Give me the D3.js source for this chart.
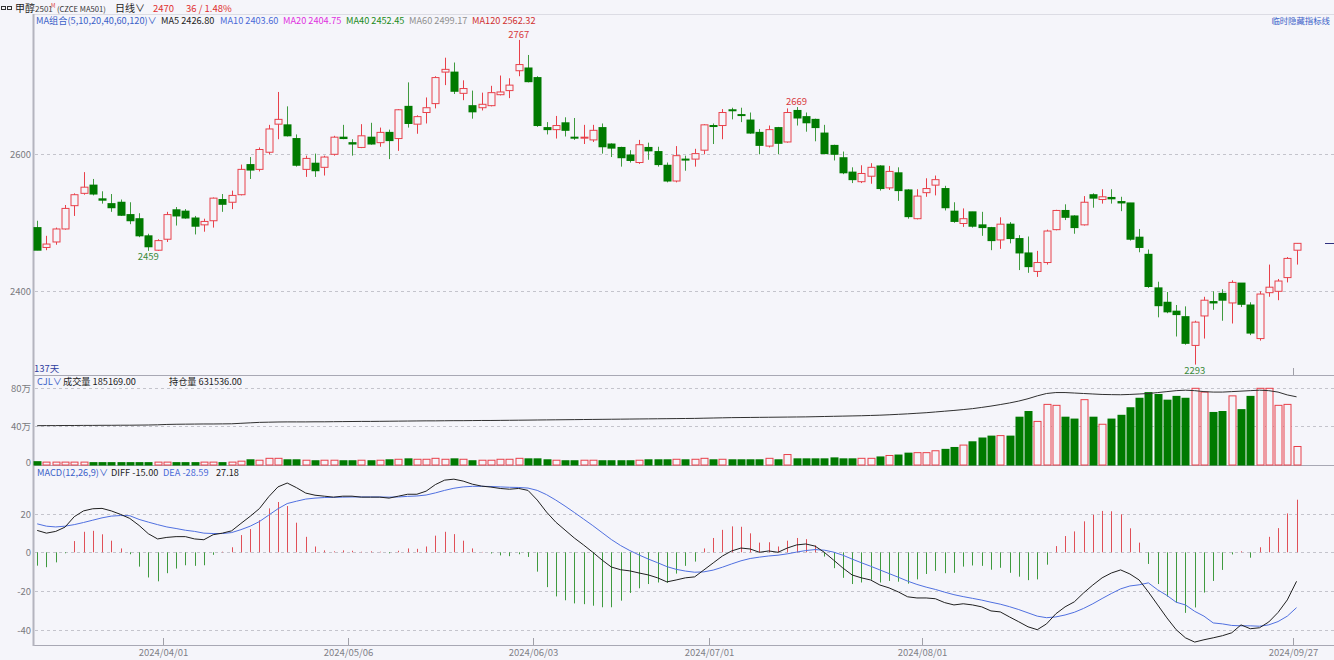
<!DOCTYPE html>
<html><head><meta charset="utf-8">
<script src="https://cdn.jsdelivr.net/npm/d3@7"></script>
<style>html,body{margin:0;padding:0;background:#f5f5fa;}svg{display:block;}</style>
</head><body>
<svg id="c" width="1334" height="660"></svg>
<script>
// ---------- DATA ----------
const dateTicks = [14, 34, 54, 73, 96, 136];
const dateLabels = ["2024/04/01","2024/05/06","2024/06/03","2024/07/01","2024/08/01","2024/09/27"];
const priceTicks = [2400, 2600];
const volTicks = [40, 80];
const volTickLabels = ["40万","80万"];
const macdTicks = [-40, -20, 0, 20];

const opens  = [2493,2464,2472,2491,2525,2543,2555,2535,2528,2530,2512,2506,2481,2460,2476,2519,2517,2507,2497,2503,2534,2530,2541,2585,2578,2603,2644,2643,2623,2578,2587,2581,2600,2625,2617,2610,2625,2617,2632,2623,2670,2644,2661,2674,2720,2720,2689,2671,2668,2671,2687,2693,2722,2726,2712,2639,2636,2646,2625,2624,2621,2639,2615,2610,2599,2588,2610,2604,2584,2561,2593,2593,2606,2642,2642,2665,2658,2650,2632,2612,2639,2618,2664,2655,2651,2631,2613,2595,2574,2560,2568,2583,2551,2573,2548,2506,2544,2555,2550,2517,2499,2516,2497,2493,2475,2498,2477,2456,2429,2442,2490,2518,2510,2497,2541,2534,2537,2531,2529,2479,2454,2405,2384,2371,2363,2321,2364,2385,2397,2383,2412,2380,2331,2398,2400,2420,2460];
const highs  = [2503,2481,2493,2526,2543,2574,2564,2546,2542,2534,2530,2514,2484,2476,2516,2523,2520,2510,2506,2537,2542,2547,2585,2596,2610,2643,2691,2670,2629,2598,2601,2598,2627,2643,2622,2644,2646,2639,2636,2666,2705,2657,2683,2714,2741,2734,2708,2693,2690,2700,2715,2711,2767,2745,2714,2647,2656,2654,2653,2643,2643,2645,2616,2611,2606,2621,2617,2611,2588,2612,2598,2608,2644,2645,2666,2668,2668,2661,2637,2642,2640,2667,2669,2661,2652,2643,2614,2604,2581,2584,2587,2584,2583,2581,2549,2549,2565,2569,2554,2530,2521,2516,2516,2494,2508,2501,2482,2480,2459,2490,2519,2527,2511,2539,2543,2549,2549,2538,2529,2491,2461,2414,2399,2380,2378,2357,2392,2400,2403,2416,2412,2384,2400,2439,2418,2450,2470];
const lows   = [2460,2460,2468,2490,2510,2541,2540,2528,2516,2510,2498,2479,2459,2459,2472,2496,2506,2483,2487,2493,2516,2520,2540,2564,2575,2600,2622,2626,2582,2567,2567,2569,2598,2622,2598,2609,2614,2611,2593,2605,2639,2630,2645,2667,2701,2688,2679,2652,2664,2670,2686,2682,2714,2705,2640,2629,2623,2626,2621,2615,2618,2601,2596,2582,2588,2586,2592,2582,2559,2559,2576,2582,2600,2615,2622,2651,2647,2630,2600,2610,2600,2617,2642,2633,2619,2600,2591,2571,2558,2558,2557,2547,2548,2532,2506,2505,2538,2540,2518,2500,2494,2493,2481,2460,2462,2470,2431,2427,2421,2439,2489,2504,2484,2496,2522,2528,2528,2517,2474,2457,2405,2362,2368,2334,2322,2293,2331,2373,2357,2353,2377,2336,2328,2392,2387,2413,2439];
const closes = [2460,2469,2491,2521,2541,2552,2542,2533,2522,2511,2503,2481,2465,2474,2512,2510,2507,2495,2502,2536,2527,2540,2578,2577,2607,2637,2651,2627,2584,2594,2576,2596,2625,2623,2615,2627,2615,2632,2620,2665,2645,2655,2668,2712,2724,2692,2696,2662,2673,2690,2691,2701,2731,2706,2642,2636,2642,2635,2624,2625,2635,2611,2609,2595,2591,2614,2605,2585,2561,2598,2592,2601,2643,2641,2661,2664,2657,2631,2613,2636,2616,2661,2653,2646,2639,2601,2600,2573,2563,2572,2581,2550,2575,2547,2509,2539,2550,2563,2522,2502,2506,2495,2493,2474,2498,2477,2456,2436,2442,2488,2518,2508,2493,2530,2536,2538,2535,2529,2476,2464,2407,2379,2370,2366,2324,2355,2387,2383,2387,2413,2381,2339,2396,2406,2415,2448,2470];

// volume (万手) and open interest (万手)
const volumes = [3,2,2,2,2,2,2,2,2,2,2,2,2,2,2,2,2,2,2,2,2,2,3,5,4,6,6,5,5,4,4,4,4,4,4,4,4,4,5,5,6,5,5,6,5,6,5,4,4,4,5,5,6,6,6,5,4,4,4,4,4,4,4,4,4,4,5,5,5,5,5,5,6,5,5,5,5,5,5,6,5,10,6,6,6,6,7,6,6,6,6,8,9,10,12,12,12,14,16,18,20,24,28,30,30,30,50,56,45,63,62,50,48,68,50,42,48,52,60,70,76,74,68,72,70,80,76,55,56,72,58,72,80,80,62,63,18.5];
const openInterest = [40.5,40.6,40.6,40.7,40.7,40.8,40.8,40.9,40.9,41,41,41.1,41.2,41.4,41.8,42,42.1,42.2,42.3,42.3,42.4,42.5,43,43.5,44,44.2,44.4,44.5,44.5,44.5,44.6,44.6,44.7,44.8,44.9,45,45,45.1,45.2,45.3,45.4,45.5,45.6,45.6,45.7,45.8,45.8,45.9,46,46,46.1,46.2,46.3,46.4,46.5,46.6,46.7,46.8,46.9,47,47.1,47.2,47.3,47.4,47.5,47.6,47.7,47.8,47.9,48,48.1,48.2,48.4,48.6,48.8,49,49.1,49.2,49.3,49.4,49.5,49.6,49.7,49.8,50,50.2,50.4,50.6,50.8,51,51.3,51.6,52,52.5,53,53.6,54.2,55,55.8,56.6,57.5,58.5,59.8,61.2,62.8,64.5,66.5,69,72,74.5,75.5,75.5,75,74.5,74,73.5,73.3,73.2,73.5,74,74.5,75.5,76.5,77.5,78,77.5,76.5,76,76,76.5,77,77.5,78,77.5,76,73,71];

// MACD
const diffs = [11.3,9.9,10.8,13,18.4,21.4,22.5,22.7,21.4,19.6,17.5,13.9,9.6,6.9,7.7,8.1,8.1,6.9,6.5,9.1,9.9,11.1,14.9,18.6,22.6,28.7,33.8,35.8,33.4,30.6,29.5,29,28.5,29,29,28.5,28.5,28.5,28,29,30,30,31.6,35,37.3,37.8,36.8,35.2,34.2,33.7,33,32.6,33,32,27,20.8,15.6,11.5,7.4,3.8,0,-4,-7.6,-9,-9.6,-10.7,-11.7,-13.2,-15.3,-14.3,-13.2,-12.7,-9.1,-5.5,-1.9,0.7,2.2,1.7,0,0.7,0,2.2,3.8,4.3,3.2,0,-4,-8.1,-11.7,-13.2,-14.3,-16.9,-18.4,-20.5,-23,-23.6,-23.6,-24,-26,-27.2,-26.6,-27.2,-28.2,-30.3,-30.8,-33.4,-35.9,-38.5,-40,-37,-31.8,-28.2,-25.6,-21,-16.9,-13.2,-10.7,-9.1,-11.2,-14.3,-20.5,-27.2,-33.9,-40,-44.2,-46.4,-45.2,-44.2,-43.1,-41.6,-37.5,-39.5,-39,-36,-31.1,-24.6,-15];
const deas  = [14.7,13.5,13.1,13.5,14.3,15.4,16.6,17.8,18.7,19,18.9,17,15.6,14.3,13.1,12.3,11.4,10.8,9.9,9.7,9.7,10.2,11.7,13.5,15.9,19.2,22.5,25.2,26.4,27.5,28,28.3,28.4,28.5,28.6,28.6,28.6,28.6,28.5,28.6,28.9,29.1,29.6,30.7,32,33.1,33.8,34.1,34.1,34,33.8,33.6,33.5,33.2,32,29.8,27,23.9,20.6,17.2,13.8,10.2,6.6,3.5,0.9,-1.4,-3.5,-5.4,-7.4,-8.8,-9.7,-10.3,-10.1,-9.2,-7.7,-6,-4.4,-3.2,-2.5,-1.9,-1.5,-0.8,0.1,0.9,1.4,1.1,0.1,-1.5,-3.5,-5.4,-7.2,-9.1,-11,-12.9,-14.9,-16.6,-18,-19.2,-20.6,-21.9,-22.9,-23.8,-24.7,-25.8,-26.8,-28.1,-29.6,-31.3,-33,-33.8,-33.4,-32.4,-31,-29,-26.6,-23.9,-21.3,-18.9,-17.4,-16.8,-15.8,-19.4,-22.3,-25.8,-27.2,-30.5,-33,-36.5,-37,-37.8,-38,-38,-38.2,-37.5,-35.8,-33,-28.6];
const macdBars = [-6.9,-7.7,-5.2,-0.5,5.8,10.6,11.1,9.3,6,2,-1,-7.4,-13,-15,-10.8,-8.4,-6.7,-7,-6.7,-1.3,0.3,2.6,8.9,12,16.6,22.7,26,23.9,15.3,8,3,1,0.5,1,0.8,0.3,0.5,0.3,-0.5,0.8,2,1.8,3,8.6,10.6,9.4,6,2,0.2,-0.6,-1.6,-2,-1,-2.4,-10,-18,-22.8,-24.8,-26.4,-26.8,-27.6,-28.4,-28.4,-25,-21,-18.6,-16.4,-15.6,-15.8,-11,-7,-4.8,2,7.4,11.6,13.4,13.2,9.8,5,5.2,3,6,7.4,6.8,3.6,-2.2,-8.2,-13.2,-16.4,-15.6,-14.2,-15.6,-14.8,-15.2,-16.2,-14,-11.2,-9.6,-10.8,-10.6,-7.4,-6.8,-7,-9,-8,-10.6,-12.6,-14.4,-14,-6.4,3.2,8.4,10.8,16,19.4,21.4,21.2,19.6,12.4,5,-6,-16.4,-22.9,-26,-31.3,-28.5,-20.8,-14.8,-9.1,-1.1,0.5,-2.8,2.6,8,12.5,20.1,27.18];

// ---------- DRAW ----------
const svg = d3.select("#c");
const W = 1334, H = 660, L = 33;
const BG = "#f5f5fa";
const RED = "#e8404a", GREEN = "#007a00", GREENW = "#3f9a3f";
const FONT = "'Noto Sans CJK SC','Noto Sans',sans-serif";
svg.append("rect").attr("width", W).attr("height", H).attr("fill", BG);

const n = closes.length;
const x = d3.scalePoint().domain(d3.range(n)).range([37.2, 37.2 + 9.26 * (n - 1)]);
const yP = d3.scaleLinear().domain([2400, 2600]).range([291.3, 154.3]);
const yV = d3.scaleLinear().domain([0, 80]).range([464, 388.3]);
const yM = d3.scaleLinear().domain([0, 20]).range([552.3, 513.6]);

// frame lines
const frame = svg.append("g").attr("stroke", "#a8a8b4").attr("stroke-width", 1);
frame.append("line").attr("x1", L).attr("x2", W).attr("y1", 14.5).attr("y2", 14.5).attr("stroke", "#dcdce4");
frame.append("line").attr("x1", L).attr("x2", W).attr("y1", 375.5).attr("y2", 375.5);
frame.append("line").attr("x1", L).attr("x2", W).attr("y1", 465.5).attr("y2", 465.5);
frame.append("line").attr("x1", L).attr("x2", W).attr("y1", 645.5).attr("y2", 645.5);
frame.append("line").attr("x1", L + 0.5).attr("x2", L + 0.5).attr("y1", 14).attr("y2", 646).attr("stroke", "#b4b4be").attr("stroke-width", 2);

function dashedGrid(vals, scale, labels) {
  const g = svg.append("g");
  vals.forEach((v, k) => {
    const yy = Math.round(scale(v)) + 0.5;
    g.append("line").attr("x1", L + 2).attr("x2", W).attr("y1", yy).attr("y2", yy)
      .attr("stroke", "#c4c4cc").attr("stroke-dasharray", "3,3");
    g.append("text").attr("x", L - 2).attr("y", yy + 3.5).attr("text-anchor", "end")
      .attr("font-family", FONT).attr("font-size", 9.5).attr("fill", "#7a7a80")
      .text(labels ? labels[k] : v);
  });
}
dashedGrid(priceTicks, yP);
dashedGrid(volTicks, yV, volTickLabels);
svg.append("text").attr("x", L - 2).attr("y", 466).attr("text-anchor", "end").attr("font-family", FONT)
  .attr("font-size", 9.5).attr("fill", "#7a7a80").text("0");
dashedGrid(macdTicks, yM);

// candles
const cg = svg.append("g");
for (let i = 0; i < n; i++) {
  const up = closes[i] >= opens[i];
  const cx = Math.round(x(i)) + 0.5;
  cg.append("line").attr("x1", cx).attr("x2", cx).attr("y1", yP(highs[i])).attr("y2", yP(lows[i]))
    .attr("stroke", up ? RED : GREENW).attr("stroke-width", 1);
  const top = yP(Math.max(opens[i], closes[i])), bot = yP(Math.min(opens[i], closes[i]));
  const h = Math.max(1, bot - top);
  if (up) {
    cg.append("rect").attr("x", cx - 3.5).attr("y", top).attr("width", 7).attr("height", h)
      .attr("fill", BG).attr("stroke", RED).attr("stroke-width", 1);
  } else {
    cg.append("rect").attr("x", cx - 4).attr("y", top - 0.5).attr("width", 8).attr("height", h + 1)
      .attr("fill", GREEN);
  }
}
// extreme labels
function ptLabel(i, val, above, color) {
  svg.append("text").attr("x", x(i)).attr("y", above ? yP(val) - 2 : yP(val) + 9.5)
    .attr("text-anchor", "middle").attr("font-family", FONT).attr("font-size", 9.5)
    .attr("fill", color).text(val);
}
ptLabel(52, 2767, true, "#d83a40");
ptLabel(82, 2669, true, "#d83a40");
ptLabel(12, 2459, false, "#3a8a3a");
ptLabel(125, 2293, false, "#3a8a3a");
// last price marker
svg.append("line").attr("x1", 1325).attr("x2", W).attr("y1", Math.round(yP(closes[n - 1])) + 0.5)
  .attr("y2", Math.round(yP(closes[n - 1])) + 0.5).attr("stroke", "#303080");

// volume
const vg = svg.append("g");
for (let i = 0; i < n; i++) {
  const up = closes[i] >= opens[i];
  const cx = Math.round(x(i)) + 0.5;
  const top = yV(volumes[i]);
  if (up) {
    vg.append("rect").attr("x", cx - 3.5).attr("y", top).attr("width", 7).attr("height", 465 - top)
      .attr("fill", BG).attr("stroke", RED).attr("stroke-width", 1);
  } else {
    vg.append("rect").attr("x", cx - 4).attr("y", top).attr("width", 8).attr("height", 465.5 - top)
      .attr("fill", GREEN);
  }
}
svg.append("path").datum(openInterest)
  .attr("d", d3.line().x((d, i) => x(i)).y(d => yV(d)))
  .attr("fill", "none").attr("stroke", "#303030").attr("stroke-width", 1);

// MACD
const mg = svg.append("g");
for (let i = 0; i < n; i++) {
  const cx = Math.round(x(i)) + 0.5;
  mg.append("line").attr("x1", cx).attr("x2", cx).attr("y1", yM(0)).attr("y2", yM(macdBars[i]))
    .attr("stroke", macdBars[i] >= 0 ? "#e05058" : "#3f9a3f").attr("stroke-width", 1);
}
svg.append("path").datum(deas).attr("d", d3.line().x((d, i) => x(i)).y(d => yM(d)))
  .attr("fill", "none").attr("stroke", "#5070e0").attr("stroke-width", 1);
svg.append("path").datum(diffs).attr("d", d3.line().x((d, i) => x(i)).y(d => yM(d)))
  .attr("fill", "none").attr("stroke", "#202020").attr("stroke-width", 1);

// date axis
dateTicks.forEach((t, k) => {
  const tx = Math.round(x(t) - 4) + 0.5;
  svg.append("line").attr("x1", tx).attr("x2", tx).attr("y1", 638).attr("y2", 645).attr("stroke", "#a0a0a8");
  svg.append("text").attr("x", tx).attr("y", 656).attr("text-anchor", "middle").attr("font-family", FONT)
    .attr("font-size", 9.5).attr("fill", "#808088").text(dateLabels[k]);
});
{
  const tx = Math.round(x(n - 1) - 4) + 0.5;
  svg.append("line").attr("x1", tx).attr("x2", tx).attr("y1", 368).attr("y2", 375).attr("stroke", "#a0a0a8");
}

// header texts
function txt(xx, yy, s, color, size, anchor) {
  return svg.append("text").attr("x", xx).attr("y", yy).attr("font-family", FONT)
    .attr("font-size", size).attr("fill", color).attr("text-anchor", anchor || "start").text(s);
}
svg.append("rect").attr("x", 1.5).attr("y", 6.5).attr("width", 4).attr("height", 3).attr("fill", "none").attr("stroke", "#333");
svg.append("rect").attr("x", 7.5).attr("y", 6.5).attr("width", 4).attr("height", 3).attr("fill", "none").attr("stroke", "#333");
txt(15, 12, "甲醇", "#222", 10);
txt(35, 12, "2501", "#444", 8);
txt(51, 8, "M", "#e04040", 5.5);
txt(57, 12, "(CZCE MA501)", "#333", 7.6);
txt(115, 12, "日线∨", "#222", 10);
txt(153, 12, "2470", "#e03030", 9.5);
txt(186, 12, "36 / 1.48%", "#e03030", 9.5);

txt(36, 24, "MA组合(5,10,20,40,60,120)∨", "#3a5fc8", 9.2);
txt(161, 24, "MA5 2426.80", "#222", 9.2);
txt(220, 24, "MA10 2403.60", "#4a6ad8", 9.2);
txt(283, 24, "MA20 2404.75", "#e030e0", 9.2);
txt(346, 24, "MA40 2452.45", "#208a20", 9.2);
txt(409, 24, "MA60 2499.17", "#909090", 9.2);
txt(472, 24, "MA120 2562.32", "#d03030", 9.2);
txt(1330, 24, "临时隐藏指标线", "#3a5fc8", 8.4, "end");

txt(34, 372, "137天", "#3040a0", 9.5);
txt(37, 385, "CJL∨", "#3a5fc8", 9.2);
txt(63, 385, "成交量 185169.00", "#222", 9.2);
txt(169, 385, "持仓量 631536.00", "#222", 9.2);

txt(37, 476, "MACD(12,26,9)∨", "#3a5fc8", 9.2);
txt(111, 476, "DIFF -15.00", "#222", 9.2);
txt(163, 476, "DEA -28.59", "#4a6ad8", 9.2);
txt(216, 476, "27.18", "#222", 9.2);
</script>
</body></html>
